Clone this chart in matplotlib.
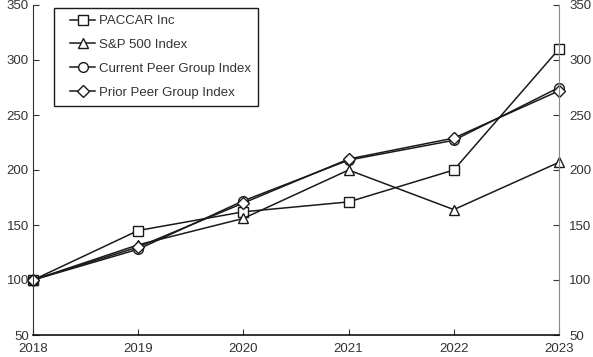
import matplotlib.pyplot as plt
import matplotlib.transforms as mtrans
from matplotlib.patches import Rectangle

years = [2018, 2019, 2020, 2021, 2022, 2023]
paccar = [100, 145, 162, 171, 200, 310]
sp500 = [100, 132, 156, 200, 164, 207]
current_peer = [100, 128, 172, 209, 227, 275]
prior_peer = [100, 130, 170, 210, 229, 272]

plt.rcParams['font.family'] = ['Liberation Sans', 'DejaVu Sans']
plt.rcParams['font.size'] = 9.5

W, H = 593, 357
fig = plt.figure(figsize=(W / 100, H / 100), dpi=100)
ax = fig.add_axes([33 / W, 1 - 335 / H, (559 - 33) / W, 330 / H])

series = [
    (paccar, 's', 'PACCAR Inc'),
    (sp500, '^', 'S&P 500 Index'),
    (current_peer, 'o', 'Current Peer Group Index'),
    (prior_peer, 'D', 'Prior Peer Group Index'),
]
for vals, mk, lbl in series:
    ax.plot(years, vals, color='#1a1a1a', linewidth=1.1, marker=mk,
            markersize=7 if mk != 'D' else 6, markerfacecolor='white',
            markeredgecolor='#1a1a1a', markeredgewidth=1.0, label=lbl, clip_on=False)

ax.set_xlim(2018, 2023)
ax.set_ylim(50, 350)
ax.set_xticks(years)
ax.set_yticks(range(50, 351, 50))

ax.spines['top'].set_visible(False)
ax.spines['right'].set_color('#888888')
ax.spines['left'].set_color('#333333')
ax.spines['bottom'].set_color('#111111')
ax.spines['bottom'].set_linewidth(1.2)

ax.tick_params(axis='y', direction='in', length=4, colors='#333333', labelcolor='#333333',
               left=True, right=True, labelleft=True, labelright=True, pad=3)
ax.tick_params(axis='x', direction='in', length=4, colors='#333333', labelcolor='#333333', pad=6)

# right-side labels sit farther from the spine
offset = mtrans.ScaledTranslation(6 / 100, 0, fig.dpi_scale_trans)
for tick in ax.yaxis.get_major_ticks():
    tick.label2.set_transform(tick.label2.get_transform() + offset)

leg = ax.legend(loc='upper left', bbox_to_anchor=(70 / W, 1 - 15 / H),
                bbox_transform=fig.transFigure, frameon=False, borderaxespad=0,
                borderpad=0, handlelength=1.9, handletextpad=0.3,
                labelspacing=0.88, fontsize=9.5)
for t in leg.get_texts():
    t.set_color('#333333')

fig.patches.append(Rectangle((54 / W, 1 - 106 / H), (258 - 54) / W, 98 / H,
                             transform=fig.transFigure, fill=False,
                             edgecolor='#1a1a1a', linewidth=1.0))

fig.savefig('out.png', dpi=100)
